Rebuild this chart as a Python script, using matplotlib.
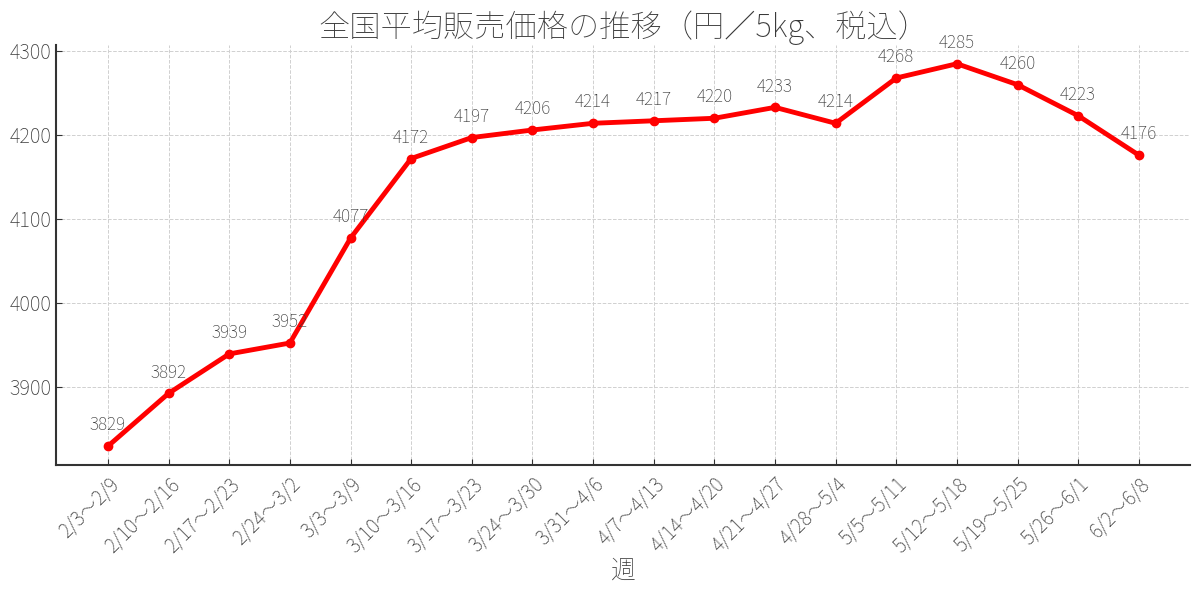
import matplotlib
matplotlib.use("Agg")
import matplotlib.pyplot as plt

weeks = ["2/3〜2/9", "2/10〜2/16", "2/17〜2/23", "2/24〜3/2", "3/3〜3/9", "3/10〜3/16",
         "3/17〜3/23", "3/24〜3/30", "3/31〜4/6", "4/7〜4/13", "4/14〜4/20", "4/21〜4/27",
         "4/28〜5/4", "5/5〜5/11", "5/12〜5/18", "5/19〜5/25", "5/26〜6/1", "6/2〜6/8"]
prices = [3829, 3892, 3939, 3952, 4077, 4172, 4197, 4206, 4214, 4217, 4220, 4233,
          4214, 4268, 4285, 4260, 4223, 4176]
title = "全国平均販売価格の推移（円／5kg、税込）"
xlabel = "週"

plt.rcParams['font.family'] = ['Noto Sans CJK JP', 'DejaVu Sans']
W = 100
plt.rcParams['font.weight'] = W
gray = '#3a3a3a'

fig, ax = plt.subplots(figsize=(12, 5.95), dpi=100)
x = list(range(len(weeks)))
ax.plot(x, prices, color='red', lw=3.5, marker='o', ms=6)
for xi, v in zip(x, prices):
    ax.annotate(str(v), (xi, v), xytext=(0, 8.5), textcoords='offset points',
                ha='center', va='bottom', fontsize=12.5, color=gray, fontweight=W)

ax.set_xticks(x)
ax.set_xticklabels(weeks, rotation=45, ha='right', rotation_mode='anchor',
                   fontsize=14, color=gray, fontweight=W)
ax.set_yticks([3900, 4000, 4100, 4200, 4300])
for lbl in ax.get_yticklabels():
    lbl.set_fontsize(14.5); lbl.set_color(gray); lbl.set_fontweight(W)
ax.tick_params(direction='in', length=4, colors='#333333', labelcolor=gray)
ax.tick_params(axis='x', pad=6)
ax.grid(True, linestyle='--', color='#d0d0d0', lw=0.7)
ax.set_axisbelow(True)
for s in ['top', 'right']:
    ax.spines[s].set_visible(False)
for s in ['left', 'bottom']:
    ax.spines[s].set_color('#333333'); ax.spines[s].set_linewidth(1.5)
ax.set_title(title, fontsize=22.5, color=gray, fontweight=W, pad=4)
ax.set_xlabel(xlabel, fontsize=18, color=gray, fontweight=W, labelpad=0)
fig.subplots_adjust(left=0.047, right=0.992, top=0.925, bottom=0.218)
fig.savefig("out.png", dpi=100)
